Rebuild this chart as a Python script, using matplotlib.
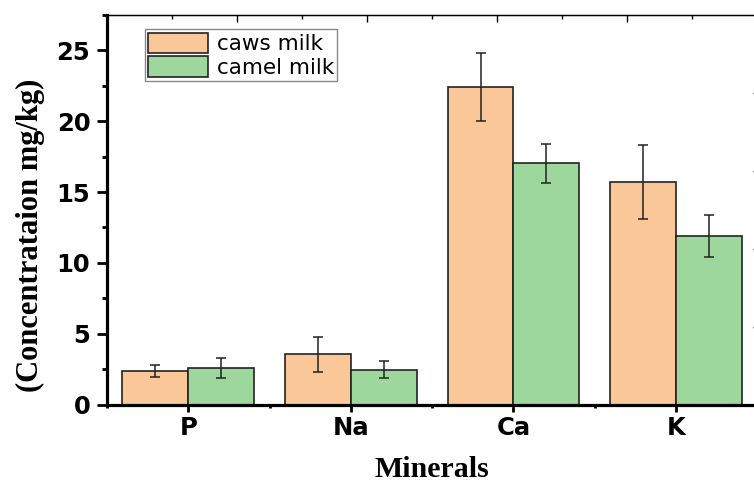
import numpy as np
import matplotlib.pyplot as plt
from matplotlib.ticker import MultipleLocator, FixedLocator, NullFormatter

# Data
minerals = ['P', 'Na', 'Ca', 'K']
cow_milk = [2.36, 3.56, 22.43, 15.69]
cow_err = [0.41, 1.24, 2.40, 2.60]
camel_milk = [2.57, 2.45, 17.03, 11.91]
camel_err = [0.73, 0.61, 1.38, 1.48]

cow_color = '#FAC898'
camel_color = '#9ED79B'

fig = plt.figure(figsize=(7.54, 4.83), dpi=100)
ax = fig.add_axes([0.1419, 0.1625, 0.8626, 0.8064])

x = np.arange(len(minerals))
w = 0.405
err_style = dict(ecolor='#222222', elinewidth=1.1, capsize=3.6, capthick=1.1)
ax.bar(x - w / 2, cow_milk, w, yerr=cow_err, color=cow_color,
       edgecolor='#222222', linewidth=1.2, label='caws milk', error_kw=err_style)
ax.bar(x + w / 2, camel_milk, w, yerr=camel_err, color=camel_color,
       edgecolor='#222222', linewidth=1.2, label='camel milk', error_kw=err_style)

ax.set_xlim(-0.5, 3.5)
ax.set_ylim(0, 27.5)

# left / bottom axes
ax.set_xticks(x)
ax.set_xticklabels(minerals)
ax.xaxis.set_minor_locator(FixedLocator([-0.5, 0.5, 1.5, 2.5]))
ax.yaxis.set_major_locator(MultipleLocator(5))
ax.yaxis.set_minor_locator(MultipleLocator(2.5))
ax.tick_params(axis='y', which='major', direction='out', length=7, width=2,
               labelsize=17.5, pad=5)
ax.tick_params(axis='y', which='minor', direction='out', length=3.5, width=2)
ax.tick_params(axis='x', which='major', direction='out', length=5, width=2,
               labelsize=17.5, pad=3)
ax.tick_params(axis='x', which='minor', direction='out', length=2.5, width=2)
for lab in ax.get_xticklabels() + ax.get_yticklabels():
    lab.set_fontweight('bold')

ax.spines['left'].set_linewidth(2.3)
ax.spines['bottom'].set_linewidth(2.3)
ax.spines['top'].set_linewidth(1.0)
ax.spines['top'].set_color('#333333')
ax.spines['right'].set_linewidth(1.0)

# top / right tick marks (no labels)
axt = ax.twiny()
axt.set_xlim(ax.get_xlim())
axt.xaxis.set_major_locator(FixedLocator([0.3, 1.1, 1.9, 2.7]))
axt.xaxis.set_minor_locator(FixedLocator([-0.1, 0.7, 1.5, 2.3, 3.1]))
axt.xaxis.set_major_formatter(NullFormatter())
axt.tick_params(axis='x', which='major', direction='in', length=5, width=1)
axt.tick_params(axis='x', which='minor', direction='in', length=3, width=1)

axr = ax.twinx()
axr.set_ylim(ax.get_ylim())
axr.yaxis.set_major_locator(FixedLocator([5.5, 11, 16.5, 22]))
axr.yaxis.set_major_formatter(NullFormatter())
axr.tick_params(axis='y', which='major', direction='in', length=3, width=1)

ax.set_xlabel('Minerals', family='Liberation Serif', fontweight='bold',
              fontsize=21.5, labelpad=12)
ax.set_ylabel('(Concentrataion mg/kg)', family='Liberation Serif',
              fontweight='bold', fontsize=22)
ax.yaxis.set_label_coords(-0.095, 0.434)

ax.legend(loc='upper left', bbox_to_anchor=(0.058, 0.963), fontsize=15.5,
          frameon=True, fancybox=False, edgecolor='#888888', framealpha=1,
          borderpad=0.15, labelspacing=0.1, handlelength=2.8,
          handleheight=1.1, handletextpad=0.4, borderaxespad=0)

fig.savefig('out.png', dpi=100)
